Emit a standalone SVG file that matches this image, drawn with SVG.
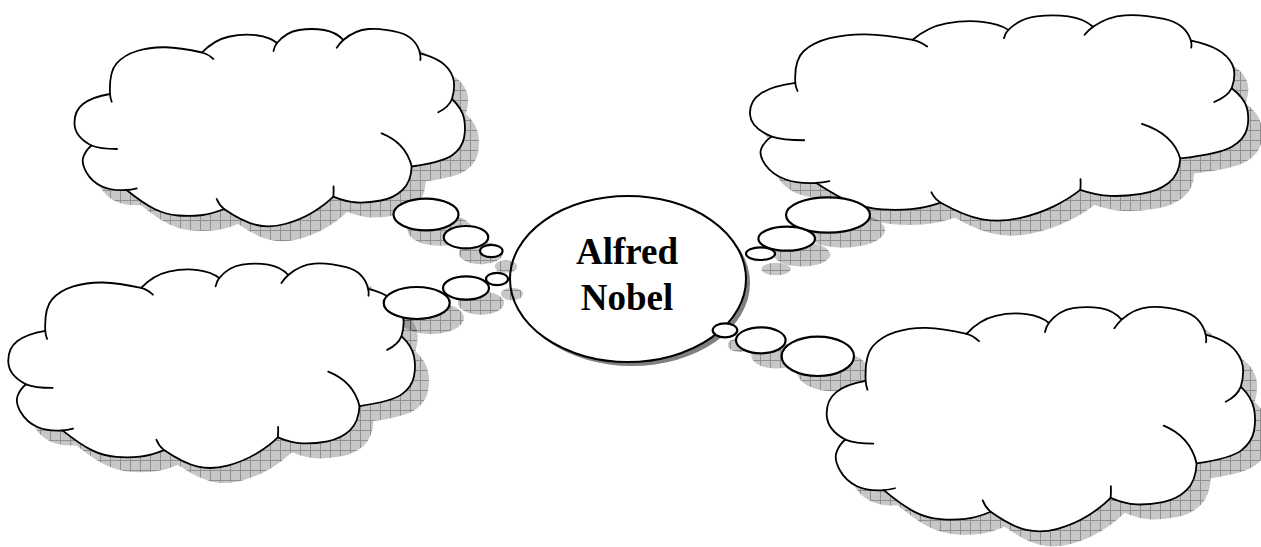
<svg xmlns="http://www.w3.org/2000/svg" xmlns:xlink="http://www.w3.org/1999/xlink" width="1261" height="547" viewBox="0 0 1261 547">
  <style>
    .cloud { fill: #ffffff; stroke: #000000; stroke-width: 1.8; stroke-linejoin: round; }
    .tails { fill: none; stroke: #000000; stroke-width: 1.8; stroke-linecap: round; }
    .bubble { fill: #ffffff; stroke: #000000; stroke-width: 2.2; }
    .bshadow { fill: url(#grid); }
    .center { fill: #ffffff; stroke: #000000; stroke-width: 2; }
    .center-shadow { fill: #808080; }
    .title { font-family: "Liberation Serif", "Times New Roman", serif; font-weight: bold; font-size: 37px; text-anchor: middle; fill: #000000; }
  </style>
  <defs>
    <!-- cloud outline, drawn at the size of the top-left cloud and scaled for the others -->
    <path id="cloud" vector-effect="non-scaling-stroke" d="M110,94 Q109,72 116.5,63.5 Q124,55 137,51 Q150,47 165,47.25 Q180,47.5 202,52.5 Q214,40 228.5,36.75 Q243,33.5 256.5,35.25 Q270,37 277,43 Q286,32 299,30 Q312,28 324,30 Q336,32 343.3,40 Q355,30 368.5,29 Q382,28 399,32.5 Q416,37 420,53.3 Q433,56.5 441,62 Q449,67.5 452.5,76.25 Q456,85 452,99 Q462,108.5 464,118.25 Q466,128 464,138 Q462,148 452.5,155 Q443,162 411.7,166.5 Q411,182 402.5,190 Q394,198 381,200.5 Q368,203 357,202.5 Q346,202 333.3,196.7 Q325,205 312.5,212.5 Q300,220 285,224 Q270,228 256.5,225 Q243,222 224,209 Q212,214 201,215.25 Q190,216.5 178,215.5 Q166,214.5 155,209.25 Q144,204 126.5,190 Q112,191 102,186.5 Q92,182 86.5,172.5 Q81,163 83.5,156.5 Q86,150 91.5,145.5 Q75,137 74.5,124 Q74,111 83,104 Q92,97 110,94 Z"/>
    <!-- lobe ends that run on inside the cloud -->
    <path id="cloudTails" vector-effect="non-scaling-stroke" d="M110,94 Q110.3,98 111.7,101.7 M202,52.5 Q208,54 213.3,59 M273.5,51 Q274.5,46 277,43 M336.7,47.7 Q339.5,43.5 343.3,40 M420,53.3 Q420.8,57 420.3,60 M452,99 Q449,107 438.3,112.3 M381.7,133.3 Q406,143 411.7,166.5 M333.5,186.5 Q333.8,192 333.3,196.7 M224,209 Q219,205 216.7,199 M136.7,188.3 Q131,189.8 126.5,190 M91.5,145.5 Q100,149 117,149"/>
    <!-- hatched shadow fill -->
    <pattern id="grid" width="10" height="10" patternUnits="userSpaceOnUse">
      <rect width="10" height="10" fill="#000000" fill-opacity="0.22"/>
      <rect width="10" height="1" fill="#000000" fill-opacity="0.28"/>
      <rect y="1" width="1" height="9" fill="#000000" fill-opacity="0.28"/>
    </pattern>
    <clipPath id="clip-tl"><use xlink:href="#cloud" href="#cloud" transform="translate(14,15)"/></clipPath>
    <clipPath id="clip-tr"><use xlink:href="#cloud" href="#cloud" transform="translate(764,30) scale(1.276,1.041) translate(-74.5,-28.7)"/></clipPath>
    <clipPath id="clip-bl"><use xlink:href="#cloud" href="#cloud" transform="translate(22.3,278.3) scale(1.0415,1.036) translate(-74.5,-28.7)"/></clipPath>
    <clipPath id="clip-br"><use xlink:href="#cloud" href="#cloud" transform="translate(840.7,321.7) scale(1.097,1.1375) translate(-74.5,-28.7)"/></clipPath>
  </defs>

  <!-- central topic -->
  <g id="node-alfred-nobel">
    <ellipse class="center-shadow" cx="632" cy="283" rx="118" ry="83"/>
    <ellipse class="center" cx="628" cy="279" rx="118" ry="83"/>
    <text class="title" x="627" y="264">Alfred</text>
    <text class="title" x="627" y="310">Nobel</text>
  </g>

  <!-- drop shadows -->
  <g id="shadows">
    <rect x="0" y="0" width="1261" height="547" fill="url(#grid)" clip-path="url(#clip-tl)"/>
    <rect x="0" y="0" width="1261" height="547" fill="url(#grid)" clip-path="url(#clip-tr)"/>
    <rect x="0" y="0" width="1261" height="547" fill="url(#grid)" clip-path="url(#clip-bl)"/>
    <rect x="0" y="0" width="1261" height="547" fill="url(#grid)" clip-path="url(#clip-br)"/>
    <ellipse class="bshadow" cx="440" cy="230" rx="32.5" ry="15.8"/>
    <ellipse class="bshadow" cx="481" cy="253" rx="22.2" ry="11.2"/>
    <ellipse class="bshadow" cx="506" cy="266.5" rx="11.3" ry="6.2"/>
    <ellipse class="bshadow" cx="512" cy="294" rx="11" ry="6.2"/>
    <ellipse class="bshadow" cx="481" cy="303" rx="23" ry="11.7"/>
    <ellipse class="bshadow" cx="431" cy="318" rx="33" ry="16"/>
    <ellipse class="bshadow" cx="843" cy="230" rx="42" ry="17.7"/>
    <ellipse class="bshadow" cx="802" cy="254.5" rx="28.3" ry="12"/>
    <ellipse class="bshadow" cx="776" cy="269" rx="14.5" ry="6.3"/>
    <ellipse class="bshadow" cx="740" cy="345" rx="12.3" ry="7"/>
    <ellipse class="bshadow" cx="776" cy="355.5" rx="24.8" ry="13"/>
    <ellipse class="bshadow" cx="833" cy="371.5" rx="36.2" ry="19.7"/>
  </g>

  <!-- thought clouds -->
  <g id="node-cloud-top-left">
    <use class="cloud" xlink:href="#cloud" href="#cloud"/>
    <use class="tails" xlink:href="#cloudTails" href="#cloudTails"/>
  </g>
  <g id="node-cloud-top-right" transform="translate(750,15) scale(1.276,1.041) translate(-74.5,-28.7)">
    <use class="cloud" xlink:href="#cloud" href="#cloud"/>
    <use class="tails" xlink:href="#cloudTails" href="#cloudTails"/>
  </g>
  <g id="node-cloud-bottom-left" transform="translate(8.3,263.3) scale(1.0415,1.036) translate(-74.5,-28.7)">
    <use class="cloud" xlink:href="#cloud" href="#cloud"/>
    <use class="tails" xlink:href="#cloudTails" href="#cloudTails"/>
  </g>
  <g id="node-cloud-bottom-right" transform="translate(826.7,306.7) scale(1.097,1.1375) translate(-74.5,-28.7)">
    <use class="cloud" xlink:href="#cloud" href="#cloud"/>
    <use class="tails" xlink:href="#cloudTails" href="#cloudTails"/>
  </g>

  <!-- thought-bubble trails linking the centre to each cloud -->
  <g id="connectors">
    <g id="trail-top-left">
      <ellipse class="bubble" cx="426" cy="214.5" rx="32.5" ry="15.8"/>
      <ellipse class="bubble" cx="466" cy="237.2" rx="22.2" ry="11.2"/>
      <ellipse class="bubble" cx="491.3" cy="251" rx="11.3" ry="6.2"/>
    </g>
    <g id="trail-bottom-left">
      <ellipse class="bubble" cx="497" cy="279" rx="11" ry="6.2"/>
      <ellipse class="bubble" cx="466" cy="288" rx="23" ry="11.7"/>
      <ellipse class="bubble" cx="416.7" cy="303" rx="33" ry="16"/>
    </g>
    <g id="trail-top-right">
      <ellipse class="bubble" cx="828" cy="215" rx="42" ry="17.7"/>
      <ellipse class="bubble" cx="786.7" cy="238.7" rx="28.3" ry="12"/>
      <ellipse class="bubble" cx="760.5" cy="253.7" rx="14.5" ry="6.3"/>
    </g>
    <g id="trail-bottom-right">
      <ellipse class="bubble" cx="725" cy="330.3" rx="12.3" ry="7"/>
      <ellipse class="bubble" cx="760.8" cy="340.3" rx="24.8" ry="13"/>
      <ellipse class="bubble" cx="817.8" cy="356.3" rx="36.2" ry="19.7"/>
    </g>
  </g>
</svg>
